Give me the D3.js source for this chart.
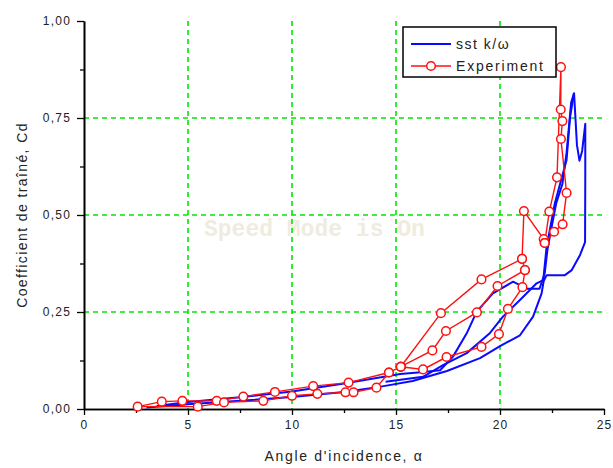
<!DOCTYPE html>
<html><head><meta charset="utf-8">
<script src="https://cdn.jsdelivr.net/npm/d3@7"></script>
<style>body{margin:0;background:#fff}svg{display:block}</style>
</head><body>
<svg id="c" width="613" height="468"></svg>
<script>
// ---- data ----
const xTicks = [0, 5, 10, 15, 20, 25];
const xMinor = [2.5, 7.5, 12.5, 17.5, 22.5];
const yTicks = [0, 0.25, 0.5, 0.75, 1.0];
const yTickLabels = ["0,00", "0,25", "0,50", "0,75", "1,00"];
const yMinor = [0.125, 0.375, 0.625, 0.875];
const xGrid = [5, 10, 15, 20];
const yGrid = [0.25, 0.5, 0.75];

// sst k/omega (computed) curves, [alpha, Cd]
const sstOuter = [[3.0,0.004],[5,0.012],[7.5,0.021],[10,0.031],[12.5,0.044],[14.2,0.057],[15.8,0.072],[17.45,0.098],[19.04,0.131],[20.0,0.162],[20.96,0.19],[21.59,0.238],[22.0,0.298],[22.1,0.33],[22.24,0.345],[23.12,0.345],[23.45,0.358],[23.85,0.397],[24.09,0.43],[24.1,0.6],[24.1,0.735],[23.95,0.665],[23.82,0.64],[23.7,0.68],[23.56,0.814],[23.42,0.79],[23.2,0.66],[23.0,0.58],[22.7,0.53],[22.45,0.46],[22.28,0.41]];
const sstInnerA = [[22.28,0.41],[22.15,0.35],[21.9,0.31],[21.28,0.31],[20.63,0.328],[19.66,0.298],[18.88,0.251],[18.4,0.195],[17.74,0.135],[17.12,0.1],[16.2,0.095],[15.2,0.09],[12.5,0.066],[10,0.045],[7.5,0.03],[5,0.018],[3.5,0.008]];
const sstInnerB = [[14.5,0.07],[16.3,0.083],[17.26,0.113],[18.4,0.144],[19.52,0.196],[20.14,0.238],[20.96,0.281],[21.76,0.324],[22.08,0.332],[22.24,0.418],[22.64,0.531],[23.2,0.642],[23.37,0.753],[23.56,0.814]];

// Experiment, [alpha, Cd], drawn as connected runs
const expLow = [[15.23,0.109],[14.66,0.094],[12.72,0.068],[11.02,0.059],[9.18,0.044],[7.66,0.032],[6.38,0.021],[4.73,0.021],[3.74,0.019],[2.58,0.006],[5.47,0.006],[6.73,0.017],[8.62,0.021],[10.0,0.034],[11.22,0.039],[12.57,0.043],[12.96,0.043],[14.06,0.055],[14.66,0.094]];
const expRunA = [[15.23,0.109],[17.16,0.247],[19.11,0.334],[21.06,0.387],[21.15,0.510],[22.1,0.438],[22.15,0.428],[22.6,0.457],[23.01,0.476],[23.2,0.557],[22.93,0.696],[23.0,0.742],[22.92,0.772],[22.93,0.881],[22.74,0.597],[22.37,0.509],[22.15,0.428]];
const expRunB = [[15.23,0.109],[16.75,0.151],[17.4,0.201],[18.89,0.249],[19.88,0.317],[21.2,0.358],[21.06,0.387]];
const expRunC = [[15.23,0.109],[16.3,0.102],[17.43,0.134],[19.11,0.160],[19.95,0.193],[20.38,0.258],[21.08,0.314],[21.2,0.358]];

// ---- drawing ----
const svg = d3.select("#c");
const x = d3.scaleLinear().domain([0, 25]).range([84, 604]);
const y = d3.scaleLinear().domain([0, 1]).range([409, 21]);
const GREEN = "#00e600", BLUE = "#0a0aff", RED = "#ff1010", INK = "#222";
const FONT = "Liberation Sans, Arial, sans-serif";

// watermark
svg.append("text").attr("x", 204).attr("y", 236)
  .attr("font-family", "Liberation Mono, Courier New, monospace").attr("font-weight", "bold")
  .attr("font-size", 23).attr("fill", "#efecdf").text("Speed Mode is On");

// grid
const g = svg.append("g");
g.selectAll(".gx").data(xGrid).join("line")
  .attr("x1", d => x(d)).attr("x2", d => x(d)).attr("y1", y(1)).attr("y2", y(0))
  .attr("stroke", GREEN).attr("stroke-width", 1.6).attr("stroke-dasharray", "5,4");
g.selectAll(".gy").data(yGrid).join("line")
  .attr("x1", x(0)).attr("x2", x(25)).attr("y1", d => y(d)).attr("y2", d => y(d))
  .attr("stroke", GREEN).attr("stroke-width", 1.6).attr("stroke-dasharray", "5,4");

// axes
const ax = svg.append("g").attr("transform", `translate(0,${y(0)})`)
  .call(d3.axisBottom(x).tickValues(xTicks).tickSize(6).tickPadding(5).tickSizeOuter(0).tickFormat(d3.format("d")));
const axm = svg.append("g").attr("transform", `translate(0,${y(0)})`)
  .call(d3.axisBottom(x).tickValues(xMinor).tickSize(4).tickFormat("").tickSizeOuter(0));
const ay = svg.append("g").attr("transform", `translate(${x(0)},0)`)
  .call(d3.axisLeft(y).tickValues(yTicks).tickSize(7).tickPadding(6).tickSizeOuter(0).tickFormat((d, i) => yTickLabels[i]));
const aym = svg.append("g").attr("transform", `translate(${x(0)},0)`)
  .call(d3.axisLeft(y).tickValues(yMinor).tickSize(4).tickFormat("").tickSizeOuter(0));
[ax, axm, ay, aym].forEach(a => {
  a.selectAll("path.domain").attr("stroke", "#000").attr("stroke-width", 1.6);
  a.selectAll(".tick line").attr("stroke", "#000").attr("stroke-width", 1.3);
  a.selectAll(".tick text").attr("font-family", FONT).attr("font-size", 12)
    .attr("fill", INK).attr("letter-spacing", 1.2);
});

// axis titles
svg.append("text").attr("x", 344).attr("y", 461).attr("text-anchor", "middle")
  .attr("font-family", FONT).attr("font-size", 14).attr("letter-spacing", 1.7).attr("fill", INK)
  .text("Angle d'incidence, α");
svg.append("text").attr("transform", "translate(27,215) rotate(-90)").attr("text-anchor", "middle")
  .attr("font-family", FONT).attr("font-size", 14).attr("letter-spacing", 1.4).attr("fill", INK)
  .text("Coefficient de traîné, Cd");

const line = d3.line().x(d => x(d[0])).y(d => y(d[1]));

// sst curves
[sstOuter, sstInnerA, sstInnerB].forEach(s => {
  svg.append("path").datum(s).attr("d", line).attr("fill", "none")
    .attr("stroke", BLUE).attr("stroke-width", 2).attr("stroke-linejoin", "round");
});

// experiment
const runs = [expLow, expRunA, expRunB, expRunC];
runs.forEach(s => {
  svg.append("path").datum(s).attr("d", line).attr("fill", "none")
    .attr("stroke", RED).attr("stroke-width", 1.4);
});
runs.forEach(s => {
  svg.append("g").selectAll("circle").data(s).join("circle")
    .attr("cx", d => x(d[0])).attr("cy", d => y(d[1])).attr("r", 4.3)
    .attr("fill", "#fff").attr("stroke", RED).attr("stroke-width", 1.5);
});

// legend
const lg = svg.append("g");
lg.append("rect").attr("x", 403).attr("y", 27).attr("width", 153).attr("height", 50)
  .attr("fill", "#fff").attr("stroke", "#000").attr("stroke-width", 1.5);
lg.append("line").attr("x1", 411).attr("x2", 451).attr("y1", 44).attr("y2", 44)
  .attr("stroke", BLUE).attr("stroke-width", 2);
lg.append("text").attr("x", 456).attr("y", 49).attr("font-family", FONT).attr("font-size", 14)
  .attr("letter-spacing", 1.5).attr("fill", INK).text("sst k/ω");
lg.append("line").attr("x1", 411).attr("x2", 451).attr("y1", 66).attr("y2", 66)
  .attr("stroke", RED).attr("stroke-width", 1.5);
lg.append("circle").attr("cx", 431).attr("cy", 66).attr("r", 4.3)
  .attr("fill", "#fff").attr("stroke", RED).attr("stroke-width", 1.5);
lg.append("text").attr("x", 456).attr("y", 71).attr("font-family", FONT).attr("font-size", 14)
  .attr("letter-spacing", 1.8).attr("fill", INK).text("Experiment");
</script>
</body></html>
